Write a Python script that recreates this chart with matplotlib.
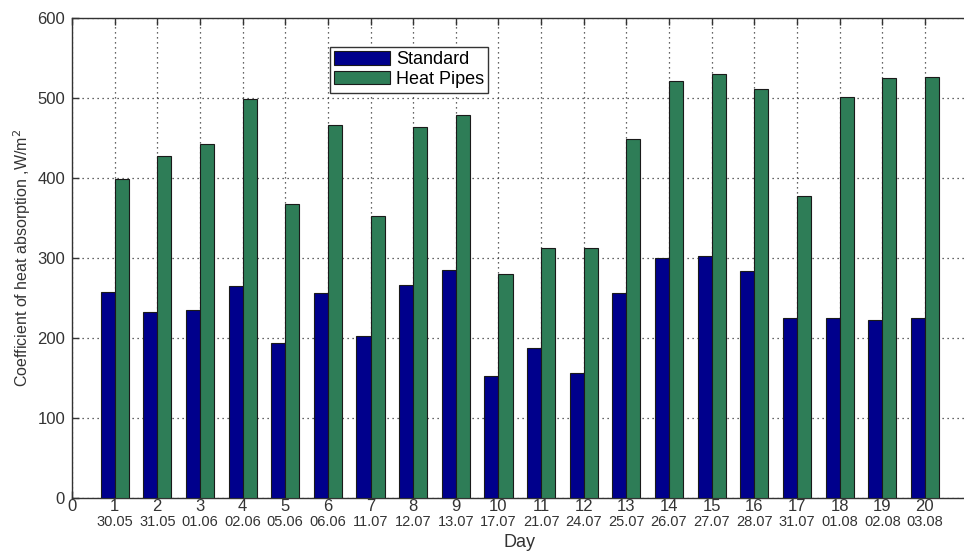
import matplotlib
matplotlib.use("Agg")
import matplotlib.pyplot as plt
import numpy as np
from matplotlib.transforms import blended_transform_factory

days = list(range(1, 21))
dates = ["30.05", "31.05", "01.06", "02.06", "05.06", "06.06", "11.07", "12.07", "13.07", "17.07",
         "21.07", "24.07", "25.07", "26.07", "27.07", "28.07", "31.07", "01.08", "02.08", "03.08"]
standard = [257, 232, 235, 265, 194, 256, 202, 266, 285, 152,
            187, 156, 256, 300, 303, 284, 225, 225, 222, 225]
heat_pipes = [399, 428, 443, 499, 367, 466, 352, 464, 479, 280,
              312, 312, 449, 521, 530, 511, 378, 501, 525, 526]
yticks = [0, 100, 200, 300, 400, 500, 600]

plt.rcParams['font.family'] = ['Liberation Sans', 'DejaVu Sans']

fig = plt.figure(figsize=(9.64, 5.51), dpi=100)
ax = fig.add_axes([0.0747, 0.0962, 0.929, 0.8711])

x = np.array(days)
w = 0.33
ax.bar(x - w / 2, standard, width=w, color='#00008C', edgecolor='#1a1a1a', linewidth=0.8,
       label='Standard', zorder=3)
ax.bar(x + w / 2, heat_pipes, width=w, color='#2E7D57', edgecolor='#1a1a1a', linewidth=0.8,
       label='Heat Pipes', zorder=3)

ax.set_xlim(0, 21)
ax.set_ylim(0, 600)
ax.set_xticks(list(range(0, 22)))
ax.set_xticklabels([str(i) for i in range(0, 21)] + [''])
ax.set_yticks(yticks)
ax.set_yticklabels([str(v) for v in yticks])
ax.set_axisbelow(True)
ax.grid(True, linestyle=(0, (1, 3)), color='#333333', linewidth=0.9, zorder=0)

ax.tick_params(axis='both', direction='in', length=5, width=1, colors='#333333',
               labelsize=12, top=True, right=False, labelcolor='#333333')
ax.tick_params(axis='x', pad=1)
ax.tick_params(axis='y', pad=5)
for s in ['left', 'bottom', 'top']:
    ax.spines[s].set_color('#333333')
    ax.spines[s].set_linewidth(1.0)
ax.spines['right'].set_visible(False)

trans = blended_transform_factory(ax.transData, ax.transAxes)
for d, lab in zip(days, dates):
    ax.text(d, -0.05, lab, transform=trans, ha='center', va='center', fontsize=10.5,
            color='#333333')

ax.set_xlabel('Day', fontsize=13, color='#333333', labelpad=14)
ax.set_ylabel('Coefficient of heat absorption ,W/m$^2$', fontsize=11.5, color='#333333',
              labelpad=3)

leg = ax.legend(loc='upper left', bbox_to_anchor=(0.288, 0.94), fontsize=13, frameon=True,
                fancybox=False, edgecolor='#333333', framealpha=1, handlelength=3.1,
                handleheight=0.75, borderpad=0.25, labelspacing=0.15, handletextpad=0.3,
                borderaxespad=0)
leg.get_frame().set_linewidth(1.0)

fig.savefig('out.png', dpi=100)
